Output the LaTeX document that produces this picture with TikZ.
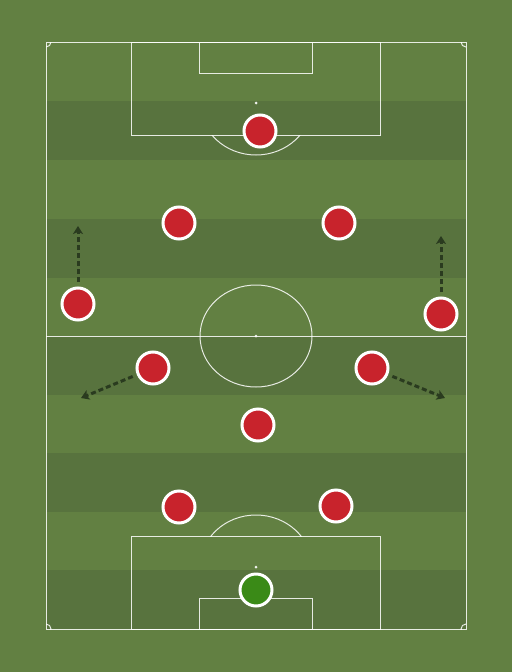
\documentclass[tikz,border=0pt]{standalone}
\usetikzlibrary{arrows.meta,shadows}
\definecolor{grass}{HTML}{628042}
\definecolor{stripe}{HTML}{58733E}
\definecolor{kitred}{HTML}{C8232C}
\definecolor{keeper}{HTML}{3A8A17}
\definecolor{runline}{HTML}{2A3B1F}
\begin{document}
\begin{tikzpicture}[x=1pt, y=-1pt,
                    pitch line/.style={draw=white, draw opacity=0.85, line width=1pt},
                    player node/.style={circle, draw=white, line width=3pt, fill=kitred,
                      minimum size=32pt, inner sep=0pt,
                      drop shadow={opacity=0.25, shadow xshift=0.5pt, shadow yshift=-1.5pt}},
                    run/.style={draw=runline, line width=3pt, dash pattern=on 5pt off 3pt,
                      -{Stealth[length=8pt,width=10pt,inset=2pt]}, shorten <=4.5pt}]

          % grass and stripes
          \fill[grass] (0,0) rectangle (512,672);
          \foreach \y in {101,219,336,453,570}
            \fill[stripe] (46,\y) rectangle (466,\y+59);

          % markings
          \draw[pitch line] (46,42) rectangle (466,629);
          \draw[pitch line] (46,336) -- (466,336);
          \draw[pitch line] (256,336) ellipse [x radius=56, y radius=51];
          \draw[pitch line] (131,42) rectangle (380,135);
          \draw[pitch line] (199,42) rectangle (312,73);
          \draw[pitch line] (131,536) rectangle (380,629);
          \draw[pitch line] (199,598) rectangle (312,629);
          \foreach \y in {103,336,567}
            \fill[white, opacity=0.9] (256,\y) circle (1.5);
          \begin{scope}
            \clip (46,135) rectangle (466,200);
            \draw[pitch line] (256,103) ellipse [x radius=56, y radius=52];
          \end{scope}
          \begin{scope}
            \clip (46,470) rectangle (466,536);
            \draw[pitch line] (256,567) ellipse [x radius=56, y radius=52];
          \end{scope}
          \begin{scope}
            \clip (46,42) rectangle (466,629);
            \foreach \x/\y in {46/42,466/42,46/629,466/629}
              \draw[pitch line] (\x,\y) circle (5);
          \end{scope}

          % players
          \node[player node] (st) at (260,131) {};
          \node[player node] (lam) at (179,223) {};
          \node[player node] (ram) at (339,223) {};
          \node[player node] (lw) at (78,304) {};
          \node[player node] (rw) at (441,314) {};
          \node[player node] (lcm) at (153,368) {};
          \node[player node] (rcm) at (372,368) {};
          \node[player node] (dm) at (258,425) {};
          \node[player node] (lcb) at (179,507) {};
          \node[player node] (rcb) at (336,506) {};
          \node[player node, fill=keeper] (gk) at (256,590) {};

          % runs
          \coordinate (lw run) at (78,226);
          \coordinate (rw run) at (441,236);
          \coordinate (lcm run) at (81,398);
          \coordinate (rcm run) at (445,398);
          \draw[run] (lw) -- (lw run);
          \draw[run] (rw) -- (rw run);
          \draw[run] (lcm) -- (lcm run);
          \draw[run] (rcm) -- (rcm run);
        \end{tikzpicture}
\end{document}
